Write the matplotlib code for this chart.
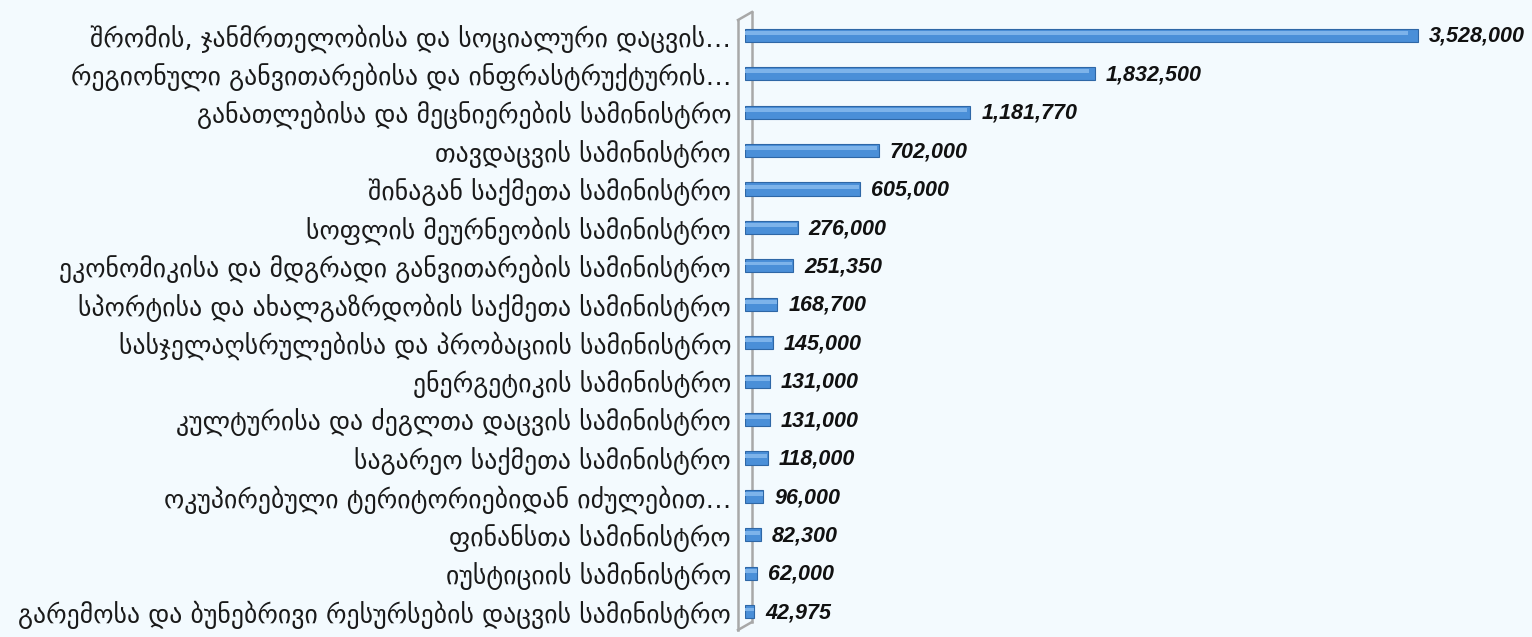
import matplotlib.pyplot as plt
from matplotlib.lines import Line2D
import numpy as np

plt.rcParams['font.family'] = ['DejaVu Sans']

labels = [
    'შრომის, ჯანმრთელობისა და სოციალური დაცვის…',
    'რეგიონული განვითარებისა და ინფრასტრუქტურის…',
    'განათლებისა და მეცნიერების სამინისტრო',
    'თავდაცვის სამინისტრო',
    'შინაგან საქმეთა სამინისტრო',
    'სოფლის მეურნეობის სამინისტრო',
    'ეკონომიკისა და მდგრადი განვითარების სამინისტრო',
    'სპორტისა და ახალგაზრდობის საქმეთა სამინისტრო',
    'სასჯელაღსრულებისა და პრობაციის სამინისტრო',
    'ენერგეტიკის სამინისტრო',
    'კულტურისა და ძეგლთა დაცვის სამინისტრო',
    'საგარეო საქმეთა სამინისტრო',
    'ოკუპირებული ტერიტორიებიდან იძულებით…',
    'ფინანსთა სამინისტრო',
    'იუსტიციის სამინისტრო',
    'გარემოსა და ბუნებრივი რესურსების დაცვის სამინისტრო',
]
values = [3528000, 1832500, 1181770, 702000, 605000, 276000, 251350, 168700,
          145000, 131000, 131000, 118000, 96000, 82300, 62000, 42975]

W, H = 1532, 637
bg = '#F3FAFE'
fig = plt.figure(figsize=(W / 100, H / 100), dpi=100, facecolor=bg)
ax = fig.add_axes([745 / W, 6 / H, 787 / W, 615 / H], facecolor='none')

# 3d wall behind the category axis
wall_col = '#A8A8A8'
def px(x, y):
    return x / W, 1 - y / H
for (x0, y0), (x1, y1) in [((738, 20), (752, 12)), ((738, 20), (738, 630)),
                           ((738, 630), (752, 622)), ((752, 12), (752, 622))]:
    a, b = px(x0, y0), px(x1, y1)
    fig.add_artist(Line2D([a[0], b[0]], [a[1], b[1]], color=wall_col,
                          lw=1.8, transform=fig.transFigure, zorder=0))

y = np.arange(len(values))
xmax = values[0] * 787 / 673
ax.set_xlim(0, xmax)
ax.set_ylim(len(values) - 0.5, -0.5)

vals = np.array(values, dtype=float)
vals_draw = np.maximum(vals, xmax * 0.012)
ax.barh(y, vals_draw, height=0.34, color='#4A8FD8', edgecolor='#2E67A6',
        linewidth=0.8, zorder=2)
ax.barh(y - 0.06, vals_draw * 0.985, height=0.1, color='#7DB3EA',
        linewidth=0, zorder=3)

for yi, v, vd in zip(y, values, vals_draw):
    ax.text(vd + xmax * 0.014, yi + 0.03, f'{v:,}', va='center', ha='left',
            fontsize=15.5, fontweight='bold', fontstyle='italic', color='#111111',
            family='Liberation Sans')

ax.set_yticks(y)
ax.set_yticklabels(labels, fontsize=18.5, color='#1a1a1a')
ax.tick_params(axis='y', length=0, pad=10)
ax.set_xticks([])
for s in ['top', 'right', 'bottom', 'left']:
    ax.spines[s].set_visible(False)

fig.savefig('out.png', dpi=100, facecolor=bg)
